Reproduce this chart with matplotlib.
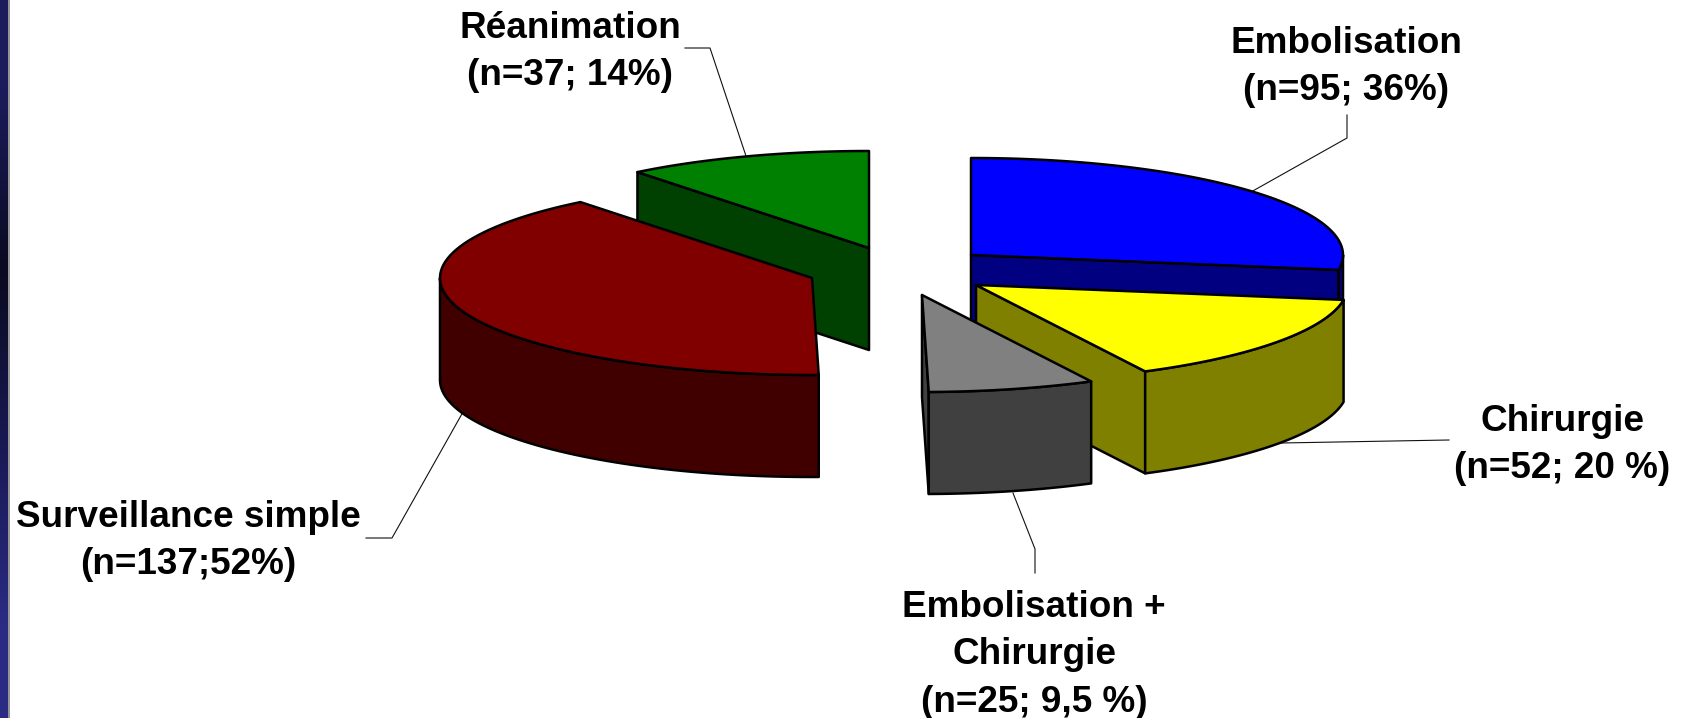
#!/usr/bin/env python3
"""Exploded 3D-look pie of treatment groups, drawn by hand since matplotlib has no such pie."""
import numpy as np
import matplotlib
matplotlib.use("Agg")
import matplotlib.pyplot as plt

labels = ["Embolisation\n(n=95; 36%)", "Chirurgie\n(n=52; 20 %)",
          "Embolisation +\nChirurgie\n(n=25; 9,5 %)",
          "Surveillance simple\n(n=137;52%)", "Réanimation\n(n=37; 14%)"]
counts = [95, 52, 25, 137, 37]
top_colors = ["#0000ff", "#ffff00", "#808080", "#800000", "#008000"]
side_colors = ["#000080", "#808000", "#404040", "#400000", "#004000"]

# layout in pixels: wedge tips after explosion, label centres, leader lines
tips = [(971, 255), (976, 285), (922, 295), (812, 278), (869, 248)]
label_xy = [(1346, 67), (1562, 445), (1034, 655), (188, 541), (570, 52)]
leaders = [[(1347, 115), (1347, 138), (1251, 192)],
           [(1449, 440), (1281, 443)],
           [(1035, 573), (1035, 549), (1013, 493)],
           [(366, 538), (392, 538), (463, 412)],
           [(685, 48), (710, 48), (746, 156)]]
RX, RY, DEPTH = 372, 97, 102
draw_order = [4, 3, 0, 1, 2]

plt.rcParams["font.family"] = "Liberation Sans"

fig = plt.figure(figsize=(16.88, 7.18), dpi=100)
ax = fig.add_axes([0, 0, 1, 1])
ax.set_xlim(0, 1688)
ax.set_ylim(718, 0)
ax.axis("off")

# slide background strip on the left edge
strip = np.array([[0.11, 0.11, 0.36], [0.04, 0.04, 0.13], [0.10, 0.10, 0.33],
                  [0.17, 0.17, 0.52]]).reshape(4, 1, 3)
ax.imshow(strip, extent=(0, 8, 718, 0), aspect="auto", interpolation="bilinear", zorder=1)
ax.plot([8.5, 8.5], [0, 718], color="#808080", lw=1.2, zorder=1)
ax.set_xlim(0, 1688)
ax.set_ylim(718, 0)

for pts in leaders:
    ax.plot([p[0] for p in pts], [p[1] for p in pts], color="#111111", lw=0.8, zorder=1)


def rim(tip, a0, a1):
    t = np.radians(np.linspace(a0, a1, 80))
    return tip[0] + RX * np.sin(t), tip[1] - RY * np.cos(t)


def draw_face(xs, ys, color, z):
    ax.fill(xs, ys, facecolor=color, edgecolor="black", lw=1.8, joinstyle="round", zorder=z)


edges = np.concatenate([[0], np.cumsum(counts)]) / sum(counts) * 360
for z, i in enumerate(draw_order):
    a0, a1 = edges[i], edges[i + 1]
    tip = tips[i]
    z = z + 2
    # radial cut faces, only those turned towards the viewer
    for a, show in ((a0, np.sin(np.radians(a0)) < 0), (a1, np.sin(np.radians(a1)) > 0)):
        if show:
            ex, ey = rim(tip, a, a)
            draw_face([tip[0], ex[0], ex[0], tip[0]],
                      [tip[1], ey[0], ey[0] + DEPTH, tip[1] + DEPTH], side_colors[i], z)
    # outer rim, front half of the ellipse only
    lo, hi = max(a0, 90), min(a1, 270)
    if lo < hi:
        rx, ry = rim(tip, lo, hi)
        draw_face(np.r_[rx, rx[::-1]], np.r_[ry, ry[::-1] + DEPTH], side_colors[i], z)
    # top face
    tx, ty = rim(tip, a0, a1)
    draw_face(np.r_[tip[0], tx], np.r_[tip[1], ty], top_colors[i], z)

for text, (x, y) in zip(labels, label_xy):
    ax.text(x, y, text, fontsize=26.6, fontweight="bold", ha="center", va="center",
            linespacing=1.47, color="black", zorder=10)

fig.savefig("out.png", dpi=100)
